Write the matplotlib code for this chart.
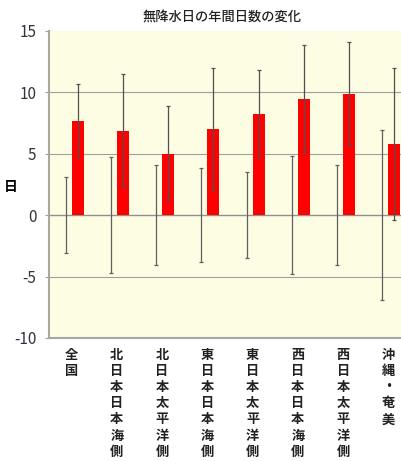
import numpy as np
import matplotlib
matplotlib.use("Agg")
import matplotlib.pyplot as plt

plt.rcParams['font.family'] = ['Noto Sans CJK JP', 'DejaVu Sans']
plt.rcParams['axes.unicode_minus'] = False

# データ
categories = ["全国", "北日本日本海側", "北日本太平洋側", "東日本日本海側",
              "東日本太平洋側", "西日本日本海側", "西日本太平洋側", "沖縄・奄美"]
base_vals = [0, 0, 0, 0, 0, 0, 0, 0]
base_err = [3.1, 4.7, 4.1, 3.8, 3.5, 4.8, 4.1, 6.9]
change_vals = [7.7, 6.85, 5.0, 7.0, 8.25, 9.45, 9.9, 5.8]
change_err = [3.0, 4.6, 3.85, 4.95, 3.55, 4.4, 4.2, 6.2]

fig = plt.figure(figsize=(4.01, 4.61), dpi=100)
ax = fig.add_axes([0.122, 0.267, 0.903, 0.666])
ax.set_facecolor('#fdfde3')

x = np.arange(len(categories))
w = 0.265
ax.errorbar(x - w / 2, base_vals, yerr=base_err, fmt='none', ecolor='#606060',
            elinewidth=0.9, capsize=1.5, capthick=0.9, zorder=3)
ax.bar(x + w / 2, change_vals, width=w, color='#ff0000', zorder=2)
ax.errorbar(x + w / 2, change_vals, yerr=change_err, fmt='none', ecolor='#505050',
            elinewidth=0.9, capsize=1.5, capthick=0.9, zorder=3)

ax.set_xlim(-0.5, len(categories) - 0.5)
ax.set_ylim(-10, 15)
ax.set_yticks([-10, -5, 0, 5, 10, 15])
for v in [-5, 5, 10]:
    ax.axhline(v, color='#a0a0a0', lw=0.8, zorder=1)
ax.axhline(0, color='#909090', lw=1.0, zorder=1)

for s in ['top', 'right']:
    ax.spines[s].set_visible(False)
for s in ['left', 'bottom']:
    ax.spines[s].set_color('#a8a8a0')
    ax.spines[s].set_linewidth(1.5)

ax.tick_params(axis='y', labelsize=11, labelcolor='#333340', color='#a0a0a0',
               length=3, width=0.8, pad=6)
ax.set_xticks(x)
ax.set_xticklabels(['\n'.join(c) for c in categories], fontsize=9.5,
                   linespacing=1.2, va='top', fontweight='bold', color='#222222')
ax.tick_params(axis='x', length=0, pad=7)

ax.set_ylabel('日', rotation=0, fontsize=10, fontweight='bold', labelpad=10)
ax.yaxis.set_label_coords(-0.105, 0.47)

fig.text(0.553, 0.962, '無降水日の年間日数の変化', ha='center', va='center',
         fontsize=9.5, fontweight='medium', color='#222222')

fig.savefig('out.png', dpi=100)
